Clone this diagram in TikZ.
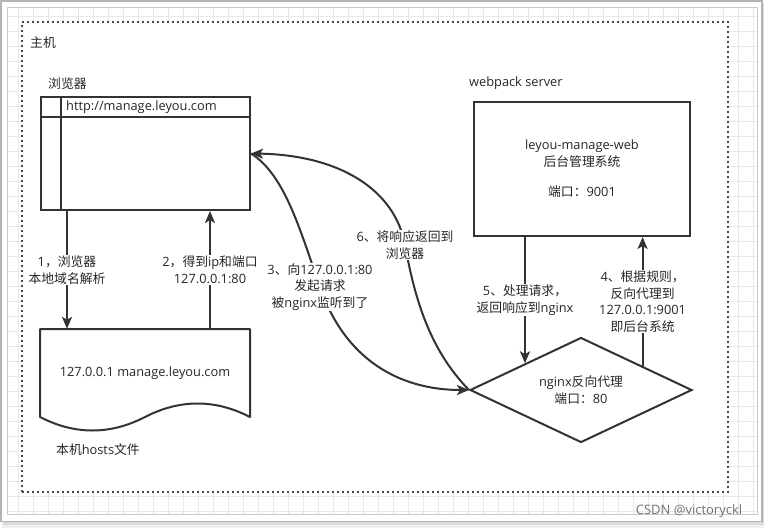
\documentclass[tikz,border=0pt]{standalone}
\usepackage{fontspec}
\setmainfont{Open Sans}
\newfontfamily\zhfont{Noto Sans CJK SC}
\newcommand\zhtxt[1]{{\zhfont#1}}
\usetikzlibrary{arrows.meta,calc,shapes.geometric}
\definecolor{ink}{HTML}{333333}
\definecolor{txt}{HTML}{262626}
\definecolor{gridc}{HTML}{E8E8E8}
\definecolor{framec}{HTML}{B4B4B4}
\definecolor{canvasc}{HTML}{CACACA}
\begin{document}
\begin{tikzpicture}[x=1pt,y=-1pt,
  every node/.style={font=\fontsize{12.8}{16.5}\selectfont, text=txt, inner sep=0pt},
  box/.style={draw=ink, line width=2pt, rectangle, inner sep=0pt},
  arr/.style={draw=ink, line width=2pt, -{Stealth[length=12pt,width=10pt,inset=3pt]}},
  lbl/.style={fill=white, align=center, inner sep=1pt},
  hostframe/.style={draw=ink!90, line width=2pt, dash pattern=on 2pt off 3pt, rectangle},
]
\useasboundingbox (0,0) rectangle (764,528);
% window frame with shadow
\fill[black!6] (2,2) rectangle (764,528);
\fill[black!14] (3,4) rectangle (763.5,525);
\draw[framec, line width=1.5pt, fill=white] (0.75,0.75) rectangle (762,521.5);
\draw[canvasc, line width=1pt, fill=white] (7.3,7.3) rectangle (757.3,514.5);
% grid
\foreach \i in {0,...,49} \draw[gridc, line width=0.9pt] ({18.3+15*\i},7.8) -- ({18.3+15*\i},514);
\foreach \j in {0,...,33} \draw[gridc, line width=0.9pt] (7.8,{16.7+15*\j}) -- (756.8,{16.7+15*\j});
% host container
\fill[white] (22,22) rectangle (728,492);
\node[hostframe, minimum width=706, minimum height=470] (host) at (375,257) {};
\node[anchor=west] (hostlbl) at (30,43) {\zhtxt{主机}};

% browser
\node[anchor=west] (browserlbl) at (48,84) {\zhtxt{浏览器}};
\node[box, minimum width=209, minimum height=113] (browser) at (145.5,153.5) {};
\draw[ink, line width=2pt] (41,117) -- (250,117);
\draw[ink, line width=2pt] (61,97) -- (61,210);
\node[anchor=west] (url) at (66,107) {http://manage.leyou.com};

% hosts file
\draw[ink, line width=2pt, line join=round] (40,417) -- (40,329) -- (250,329) -- (250,417)
  .. controls (215,399) and (180,399) .. (145,417)
  .. controls (110,435) and (75,435) .. (40,417) -- cycle;
\node[minimum width=210, minimum height=88] (hosts) at (145,373) {127.0.0.1 manage.leyou.com};
\node[anchor=west] (hostslbl) at (56,450) {\zhtxt{本机}hosts\zhtxt{文件}};

% webpack server
\node[anchor=west] (weblbl) at (469,83) {webpack server};
\node[box, minimum width=216, minimum height=134, align=center] (web) at (582,169)
  {leyou-manage-web\\\zhtxt{后台管理系统}\\[14pt]\zhtxt{端口：}9001};

% nginx
\node[draw=ink, line width=2pt, diamond, minimum width=222, minimum height=105, inner sep=0pt] (nginx) at (581,390) {};
\node[align=center] (ngtxt) at (581,390) {nginx\zhtxt{反向代理}\\\zhtxt{端口：}80};

% connectors
\coordinate (c1) at (67,0);
\coordinate (c2) at (210,0);
\coordinate (d4) at ($(nginx.north)!0.55!(nginx.east)$);

\draw[arr] (browser.south -| c1) -- node[lbl] (l1) {1\zhtxt{，浏览器}\\\zhtxt{本地域名解析}} (hosts.north -| c1);
\draw[arr] (hosts.north -| c2) -- node[lbl] (l2) {2\zhtxt{，得到}ip\zhtxt{和端口}\\127.0.0.1:80} (browser.south -| c2);
\draw[arr] (web.south -| nginx.north west) -- node[lbl] (l5) {5\zhtxt{、处理请求，}\\\zhtxt{返回响应到}nginx} (nginx.north west);
\draw[arr] (d4) -- node[lbl] (l4) {4\zhtxt{、根据规则，}\\\zhtxt{反向代理到}\\127.0.0.1:9001\\\zhtxt{即后台系统}} (web.south -| d4);

\draw[arr] (browser.east) .. controls (285,175) and (300,230) .. (320,287)
  node[lbl] (l3) {3\zhtxt{、向}127.0.0.1:80\\\zhtxt{发起请求}\\\zhtxt{被}nginx\zhtxt{监听到了}}
  .. controls (345,360) and (400,390) .. (nginx.west);
\draw[arr] (nginx.west) .. controls (430,350) and (415,300) .. (405,245)
  node[lbl] (l6) {6\zhtxt{、将响应返回到}\\\zhtxt{浏览器}}
  .. controls (395,190) and (340,155) .. (browser.east);

% watermark
\node[text=black!55, font=\fontsize{13}{15}\selectfont] (wm) at (689,511) {CSDN @victoryckl};
\end{tikzpicture}
\end{document}
